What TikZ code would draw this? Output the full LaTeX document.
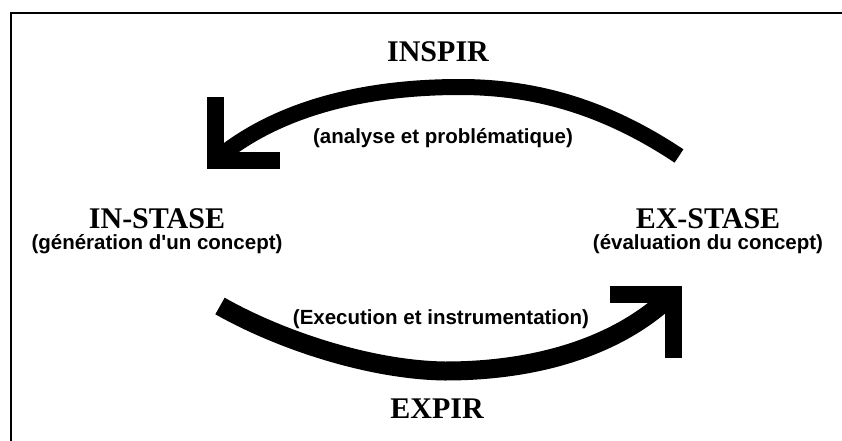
\documentclass[tikz,border=0pt]{standalone}
\usepackage{fontspec}
\setmainfont{Liberation Serif}
\newfontfamily\subfont{Liberation Sans}
\usepackage{xcolor}
\usetikzlibrary{calc}
\usetikzlibrary{positioning}

\tikzset{
  title/.style={font=\fontsize{30}{30}\selectfont\bfseries, inner sep=0pt},
  subtitle/.style={font=\subfont\fontsize{20.5}{20.5}\selectfont\bfseries, inner sep=0pt},
  shaft/.style={line width=16pt, line cap=butt},
  barb/.style={line width=17pt, line join=miter, line cap=butt},
}

\begin{document}
\begin{tikzpicture}[x=1pt,y=-1pt]
  \useasboundingbox (0,0) rectangle (842,441);
  % frame
  \draw [line width=1.3pt] (11,441) -- (11,13) -- (842,13);

  \node [title] (inspir) at (438,52) {INSPIR};
  \node [title] (expir) at (437,409) {EXPIR};
  \node [title] (instase) at (157,219) {IN-STASE};
  \node [subtitle, below=5pt of instase] (instasesub) {(génération d'un concept)};
  \node [title] (exstase) at (708,219) {EX-STASE};
  \node [subtitle, below=5pt of exstase] (exstasesub) {(évaluation du concept)};
  \node [subtitle] (analyse) at (443,138) {(analyse et problématique)};
  \node [subtitle] (execution) at (441,319) {(Execution et instrumentation)};

  % upper arrow
  \coordinate (inspirtail) at (679,156);
  \coordinate (inspirtop) at (460,87);
  \coordinate (inspirend) at (224,153);
  \draw [shaft] (inspirtail) .. controls (610,110) and (540,87) .. (inspirtop)
    .. controls (360,87) and (280,110) .. (inspirend);
  \draw [barb] (215,97) |- (280,160);

  % lower arrow
  \coordinate (expirtail) at (220,306);
  \coordinate (expirbottom) at (445,371);
  \coordinate (expirend) at (664,302);
  \draw [shaft, line width=19pt] (expirtail) .. controls (280,340) and (370,370) .. (expirbottom)
    .. controls (540,371) and (615,345) .. (expirend);
  \draw [barb] (673,358) |- (610,294);
\end{tikzpicture}
\end{document}
